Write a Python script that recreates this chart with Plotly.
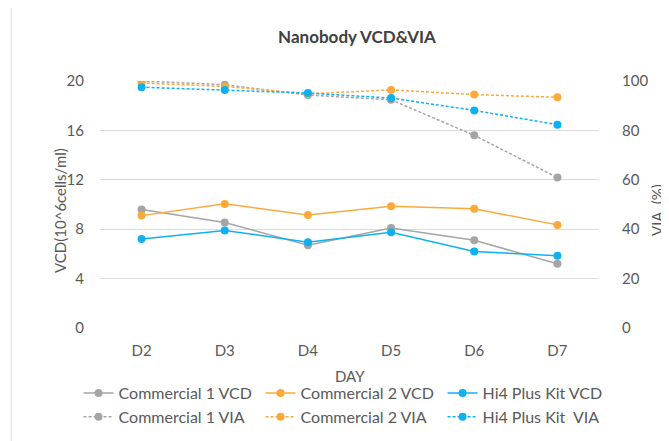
import plotly.graph_objects as go

days = ["D2", "D3", "D4", "D5", "D6", "D7"]

# VCD (10^6 cells/ml), left axis
c1_vcd = [9.6, 8.55, 6.7, 8.1, 7.1, 5.2]
c2_vcd = [9.1, 10.05, 9.15, 9.85, 9.65, 8.35]
hi4_vcd = [7.2, 7.9, 6.95, 7.75, 6.2, 5.85]

# viability (%), right axis
c1_via = [100, 98.5, 94.3, 92.4, 78.0, 60.9]
c2_via = [99.2, 97.8, 94.8, 96.4, 94.5, 93.4]
hi4_via = [97.5, 96.4, 95.1, 93.1, 88.1, 82.3]

GRAY = "#A5A5A5"
ORANGE = "#FBAA3A"
BLUE = "#0DB1EF"
FONT = "Lato"
TXT = "#595959"

fig = go.Figure()

def add_line(y, name, color, dashed=False):
    fig.add_trace(go.Scatter(
        x=days, y=y, name=name,
        mode="lines+markers",
        line=dict(color=color, width=1.5, dash="3px,2px" if dashed else "solid"),
        marker=dict(color=color, size=8),
        yaxis="y2" if dashed else "y",
    ))

add_line(c1_vcd, "Commercial 1 VCD", GRAY)
add_line(c2_vcd, "Commercial 2 VCD", ORANGE)
add_line(hi4_vcd, "Hi4 Plus Kit VCD", BLUE)
add_line(c1_via, "Commercial 1 VIA", GRAY, True)
add_line(c2_via, "Commercial 2 VIA", ORANGE, True)
add_line(hi4_via, "Hi4 Plus Kit  VIA", BLUE, True)

# page body has an 8px margin, so the figure is a bit smaller than the window
fig.update_layout(
    width=661, height=433,
    margin=dict(l=92, r=70, t=73, b=113, autoexpand=False),
    paper_bgcolor="white", plot_bgcolor="white",
    font=dict(family=FONT, size=15, color=TXT),
    title=dict(text="<b>Nanobody VCD&VIA</b>", x=0.515, xref="paper",
               y=0.933, yanchor="middle", font=dict(size=17, color="#404040")),
    xaxis=dict(range=[-0.5, 5.5], showgrid=False, zeroline=False, showline=False,
               ticklabelstandoff=12),
    yaxis=dict(range=[0, 20], dtick=4, gridcolor="#DCDCDC", zeroline=False,
               showline=False, ticklabelstandoff=15),
    yaxis2=dict(range=[0, 100], dtick=20, overlaying="y", side="right",
                showgrid=False, zeroline=False, showline=False, ticklabelstandoff=22),
    legend=dict(orientation="h", x=-0.043, xanchor="left", y=-0.195, yanchor="top",
                entrywidth=137, entrywidthmode="pixels",
                font=dict(size=16, color=TXT), bgcolor="rgba(0,0,0,0)"),
    showlegend=True,
    annotations=[
        dict(text="VCD(10^6cells/ml)", textangle=-90, xref="paper", yref="paper",
             x=(60 - 100) / 499, y=(328 - 211) / 247, xanchor="center",
             yanchor="middle", showarrow=False, font=dict(size=15, color=TXT)),
        dict(text="VIA  (%)", textangle=-90, xref="paper", yref="paper",
             x=(657 - 100) / 499, y=(328 - 210) / 247, xanchor="center",
             yanchor="middle", showarrow=False, font=dict(size=15, color=TXT)),
        dict(text="DAY", xref="paper", yref="paper",
             x=(350 - 100) / 499, y=(328 - 376) / 247, xanchor="center",
             yanchor="middle", showarrow=False, font=dict(size=15, color=TXT)),
    ],
    shapes=[
        dict(type="line", xref="paper", yref="paper", x0=-0.178, x1=-0.178,
             y0=1.308, y1=-1, line=dict(color="#D9D9D9", width=1)),
        dict(type="line", xref="paper", yref="paper", x0=-0.178, x1=2,
             y0=1.308, y1=1.308, line=dict(color="#D9D9D9", width=1)),
    ],
)

fig.write_html("out.html")
